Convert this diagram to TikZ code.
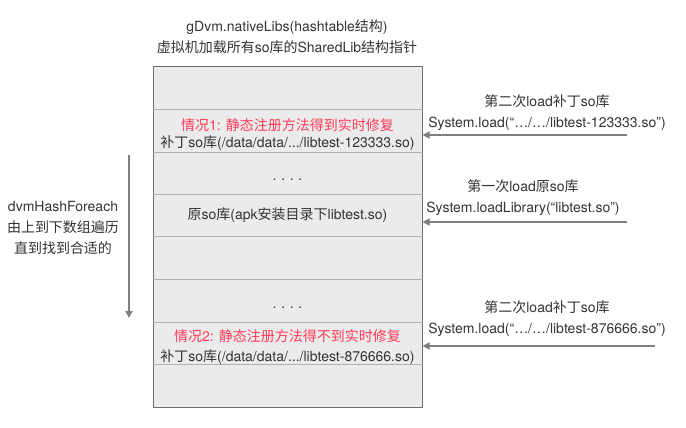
\documentclass[tikz,border=0pt]{standalone}
\usepackage{fontspec}
\setmainfont{TeX Gyre Heros}
\newfontfamily\cjkfont{Noto Sans CJK SC}
% CJK runs switch to the CJK family
\newXeTeXintercharclass\CJKcls
\newcount\cc
\cc="4E00 \loop \XeTeXcharclass\cc=\CJKcls \advance\cc 1 \ifnum\cc<"A000 \repeat
\cc="3000 \loop \XeTeXcharclass\cc=\CJKcls \advance\cc 1 \ifnum\cc<"3040 \repeat
\XeTeXcharclass"201C=0 \XeTeXcharclass"201D=0 \XeTeXcharclass"2026=0
\XeTeXinterchartoks 0 \CJKcls = {\cjkfont}
\XeTeXinterchartoks 4095 \CJKcls = {\cjkfont}
\XeTeXinterchartoks \CJKcls 0 = {\rmfamily}
\XeTeXinterchartoks \CJKcls 4095 = {\rmfamily}
\XeTeXinterchartokenstate=1
\usetikzlibrary{arrows.meta}
\definecolor{txtgray}{HTML}{333333}
\definecolor{boxfill}{HTML}{EBEBEB}
\definecolor{boxline}{HTML}{6E6E6E}
\definecolor{rowline}{HTML}{B0B0B0}
\definecolor{arrgray}{HTML}{7D7F85}
\definecolor{hotred}{HTML}{FF3A5A}
\tikzset{
  lbl/.style={text=txtgray, align=center, inner sep=0pt, font=\fontsize{14}{21}\selectfont},
  redlbl/.style={lbl, text=hotred},
  link/.style={->, draw=arrgray, line width=2pt}
}
\begin{document}
\begin{tikzpicture}[x=1pt, y=-1pt, >={Triangle[length=7pt,width=7pt]}]
        \useasboundingbox (0,0) rectangle (686,428);
        % hashtable
        \node (tab) [draw=boxline, fill=boxfill, line width=1pt, minimum width=269pt, minimum height=340pt, inner sep=0pt] at (287.5,237) {};
        \foreach \y in {109,152,194,236,279,322,364}
        {
                \draw [rowline, line width=.8pt] (tab.west |- 0,\y)--(tab.east |- 0,\y);
        }
        \node (title) [lbl] at (287,36.5) {gDvm.nativeLibs(hashtable结构)\\虚拟机加载所有so库的SharedLib结构指针};
        \node (case1) [redlbl] at (287.5,125) {情况1: 静态注册方法得到实时修复};
        \node (patch1) [lbl] at (287.5,143) {补丁so库(/data/data/.../libtest-123333.so)};
        \node (dots1) [lbl] at (287.5,180) {.\,\,.\,\,.\,\,.};
        \node (orig) [lbl] at (287.5,215) {原so库(apk安装目录下libtest.so)};
        \node (dots2) [lbl] at (287.5,308) {.\,\,.\,\,.\,\,.};
        \node (case2) [redlbl] at (287.5,336) {情况2: 静态注册方法得不到实时修复};
        \node (patch2) [lbl] at (287.5,357) {补丁so库(/data/data/.../libtest-876666.so)};
        % loads
        \node (load2a) [lbl] at (547,112.5) {第二次load补丁so库\\System.load(“…/…/libtest-123333.so”)};
        \node (load1) [lbl] at (523,197.5) {第一次load原so库\\System.loadLibrary(“libtest.so”)};
        \node (load2b) [lbl] at (547,318.5) {第二次load补丁so库\\System.load(“…/…/libtest-876666.so”)};
        \coordinate (s1) at (627,135);
        \coordinate (s2) at (627,222);
        \coordinate (s3) at (655,346);
        \draw [link] (s1)--(tab.east |- s1);
        \draw [link] (s2)--(tab.east |- s2);
        \draw [link] (s3)--(tab.east |- s3);
        % traversal
        \node (walk) [lbl] at (63,228) {dvmHashForeach\\由上到下数组遍历\\直到找到合适的};
        \coordinate (w1) at (129,155);
        \coordinate (w2) at (129,318);
        \draw [link] (w1)--(w2);
\end{tikzpicture}
\end{document}
